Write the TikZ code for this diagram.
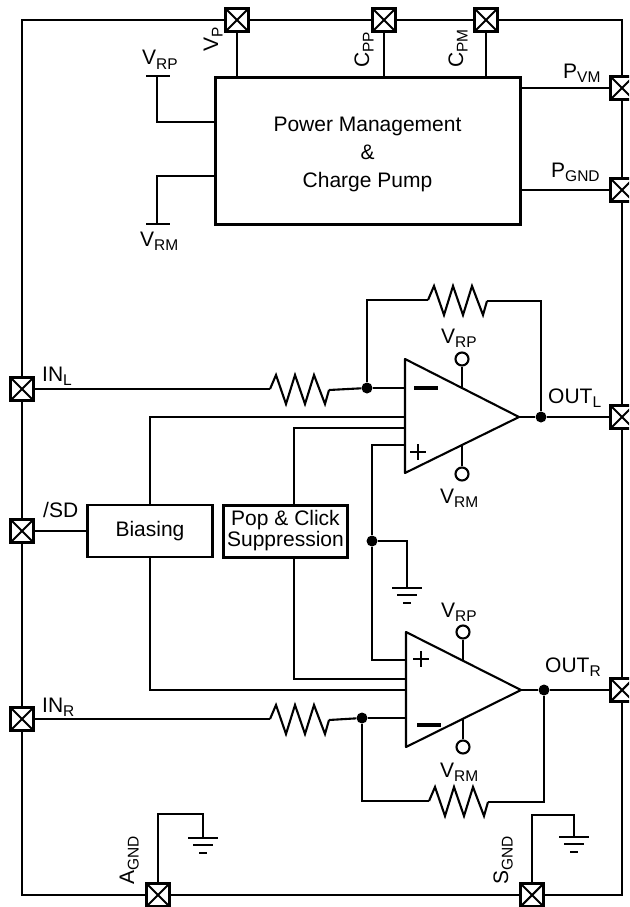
\documentclass[tikz,border=0pt]{standalone}
\usepackage{fontspec}
\setmainfont{Liberation Sans}
\newcommand{\subtxt}[2]{#1\raisebox{-4.5pt}{\fontsize{15.5}{15.5}\selectfont #2}}
\tikzset{
	wire/.style={line width=2.1pt},
	txt/.style={font=\fontsize{21}{21}\selectfont, inner sep=0pt, anchor=base west},
	pad/.style={draw, fill=white, line width=3.2pt, minimum size=23pt, inner sep=0pt,
		path picture={\draw[wire] (path picture bounding box.south west) -- (path picture bounding box.north east)
		(path picture bounding box.north west) -- (path picture bounding box.south east);}},
	term/.style={draw, circle, fill=white, line width=2.1pt, minimum size=13pt, inner sep=0pt},
	dot/.style={circle, fill=black, minimum size=11pt, inner sep=0pt},
	gnd/.pic={\draw[wire] (-15,0) -- (15,0) (-10,7) -- (10,7) (-4,15) -- (4,15);},
	res/.pic={\draw[wire] (0,0) -- (6,-14) -- (16,15) -- (25,-14) -- (35,15) -- (44,-14) -- (55,15) -- (59,1);}
}

\begin{document}
\begin{tikzpicture}
	\pgfsetxvec{\pgfpoint{1pt}{0pt}}
	\pgfsetyvec{\pgfpoint{0pt}{-1pt}}
	\useasboundingbox (0,0) rectangle (629,907);
	\clip (0,0) rectangle (629,907);

	% pads
	\node[pad] at (237,20) (padvp) {};
	\node[pad] at (384,20) (padcpp) {};
	\node[pad] at (486,20) (padcpm) {};
	\node[pad] at (622,88) (padpvm) {};
	\node[pad] at (622,190) (padpgnd) {};
	\node[pad] at (622,417) (padoutl) {};
	\node[pad] at (622,690) (padoutr) {};
	\node[pad] at (532,895) (padsgnd) {};
	\node[pad] at (158,895) (padagnd) {};
	\node[pad] at (22,719) (padinr) {};
	\node[pad] at (22,531) (padsd) {};
	\node[pad] at (22,389) (padinl) {};
	\coordinate (cornw) at (22,20);
	\coordinate (corne) at (622,20);
	\coordinate (corse) at (622,895);
	\coordinate (corsw) at (22,895);
	\draw[wire] (padvp) -- (cornw) -- (padinl);
	\draw[wire] (padcpm) -- (corne) -- (padpvm);
	\draw[wire] (padoutr) -- (corse) -- (padsgnd);
	\draw[wire] (padagnd) -- (corsw) -- (padinr);
	\path[wire] (padvp) edge (padcpp)
	(padcpp) edge (padcpm)
	(padpvm) edge (padpgnd)
	(padpgnd) edge (padoutl)
	(padoutl) edge (padoutr)
	(padsgnd) edge (padagnd)
	(padinr) edge (padsd)
	(padsd) edge (padinl);

	% power block
	\node[draw, line width=3pt, minimum width=305pt, minimum height=147pt, inner sep=0pt] at (367.5,150.5) (pwr) {};
	\node[align=center, inner sep=0pt, font=\fontsize{21}{28}\selectfont] at (367.5,154) (pwrtxt) {Power Management\\\&\\Charge Pump};
	\draw[wire] (padvp) -- (237,76);
	\draw[wire] (padcpp) -- (384,76);
	\draw[wire] (padcpm) -- (486,76);
	\draw[wire] (padpvm) -- (520,88);
	\draw[wire] (padpgnd) -- (520,190);
	\coordinate (vrptop) at (157,76);
	\coordinate (vrmbot) at (157,224);
	\draw[wire] (vrptop) |- (214,122);
	\draw[wire] (vrmbot) |- (214,176);
	\draw[wire] (146,76) -- (170,76);
	\draw[wire] (146,224) -- (170,224);

	% left amplifier
	\coordinate (ltop) at (405,359);
	\coordinate (lbot) at (405,473);
	\coordinate (ltip) at (519,417);
	\draw[wire, line join=round] (ltop) -- (ltip) -- (lbot) -- cycle;
	\node[dot] at (367,388) (dotlm) {};
	\node[dot] at (541,417) (dotlo) {};
	\node[dot] at (372,541) (dotgnd) {};
	\node[term] at (462,359) (termlp) {};
	\node[term] at (462,474) (termlm) {};
	\draw[wire] (termlp) -- (462,388);
	\draw[wire] (termlm) -- (462,446);
	\draw[wire] (ltip) -- (dotlo);
	\draw[wire] (dotlo) -- (padoutl);
	\draw[wire] (dotlm) -- (405,388);
	\draw[wire] (dotlm) |- (428,300);
	\pic at (428,300) {res};
	\draw[wire] (487,301) -| (dotlo);
	\draw[wire] (padinl) -- (270,389);
	\pic at (270,389) {res};
	\draw[wire] (329,390) -- (dotlm);
	\draw[line width=3.2pt] (414,388) -- (438,388);
	\draw[wire] (410,452) -- (426,452) (418,444) -- (418,460);

	% right amplifier
	\coordinate (rtop) at (406,632);
	\coordinate (rbot) at (406,747);
	\coordinate (rtip) at (521,690);
	\draw[wire, line join=round] (rtop) -- (rtip) -- (rbot) -- cycle;
	\node[dot] at (362,718) (dotrm) {};
	\node[dot] at (544,690) (dotro) {};
	\node[term] at (463,632) (termrp) {};
	\node[term] at (463,747) (termrm) {};
	\draw[wire] (termrp) -- (463,660);
	\draw[wire] (termrm) -- (463,718);
	\draw[wire] (rtip) -- (dotro);
	\draw[wire] (dotro) -- (padoutr);
	\draw[wire] (dotrm) -- (406,718);
	\draw[wire] (dotrm) |- (429,801);
	\pic at (429,801) {res};
	\draw[wire] (488,802) -| (dotro);
	\draw[wire] (padinr) -- (270,719);
	\pic at (270,719) {res};
	\draw[wire] (329,720) -- (dotrm);
	\draw[line width=3.2pt] (417,725) -- (441,725);
	\draw[wire] (413,659) -- (429,659) (421,651) -- (421,667);

	% biasing and suppression
	\node[draw, line width=2.3pt, minimum width=125pt, minimum height=52pt, inner sep=0pt,
		font=\fontsize{21}{21}\selectfont] at (150,531) (bias) {Biasing};
	\node[draw, line width=3pt, minimum width=124pt, minimum height=52pt, inner sep=0pt,
		align=center, font=\fontsize{21}{21}\selectfont] at (285.5,531) (pop) {Pop \& Click\\Suppression};
	\draw[wire] (padsd) -- (bias);
	\draw[wire] (bias.north) |- (405,417);
	\draw[wire] (bias.south) |- (406,690);
	\draw[wire] (294,505) |- (405,428);
	\draw[wire] (294,557) |- (406,679);
	\draw[wire] (405,445) -| (dotgnd);
	\draw[wire] (dotgnd) |- (406,660);
	\draw[wire] (dotgnd) -| (407,588);
	\pic at (407,588) {gnd};

	% ground pads
	\draw[wire] (padagnd) |- (203,814) -- (203,838);
	\pic at (203,838) {gnd};
	\draw[wire] (padsgnd) |- (574,815) -- (574,837);
	\pic at (574,837) {gnd};

	% labels
	\node[txt, rotate=90] at (218,52) (labvp) {\subtxt{V}{P}};
	\node[txt, rotate=90] at (369,68) (labcpp) {\subtxt{C}{PP}};
	\node[txt, rotate=90] at (463,68) (labcpm) {\subtxt{C}{PM}};
	\node[txt, rotate=90] at (134,885) (labagnd) {\subtxt{A}{GND}};
	\node[txt, rotate=90] at (508,885) (labsgnd) {\subtxt{S}{GND}};
	\node[txt] at (142,65) (labvrp) {\subtxt{V}{RP}};
	\node[txt] at (140,246) (labvrm) {\subtxt{V}{RM}};
	\node[txt] at (563,78) (labpvm) {\subtxt{P}{VM}};
	\node[txt] at (551,177) (labpgnd) {\subtxt{P}{GND}};
	\node[txt] at (42,381) (labinl) {\subtxt{IN}{L}};
	\node[txt] at (42,712) (labinr) {\subtxt{IN}{R}};
	\node[txt] at (43,517) (labsd) {/SD};
	\node[txt] at (548,403) (laboutl) {\subtxt{OUT}{L}};
	\node[txt] at (545,672) (laboutr) {\subtxt{OUT}{R}};
	\node[txt] at (441,343) (labvrpl) {\subtxt{V}{RP}};
	\node[txt] at (440,503) (labvrml) {\subtxt{V}{RM}};
	\node[txt] at (441,617) (labvrpr) {\subtxt{V}{RP}};
	\node[txt] at (440,777) (labvrmr) {\subtxt{V}{RM}};
\end{tikzpicture}
\end{document}
